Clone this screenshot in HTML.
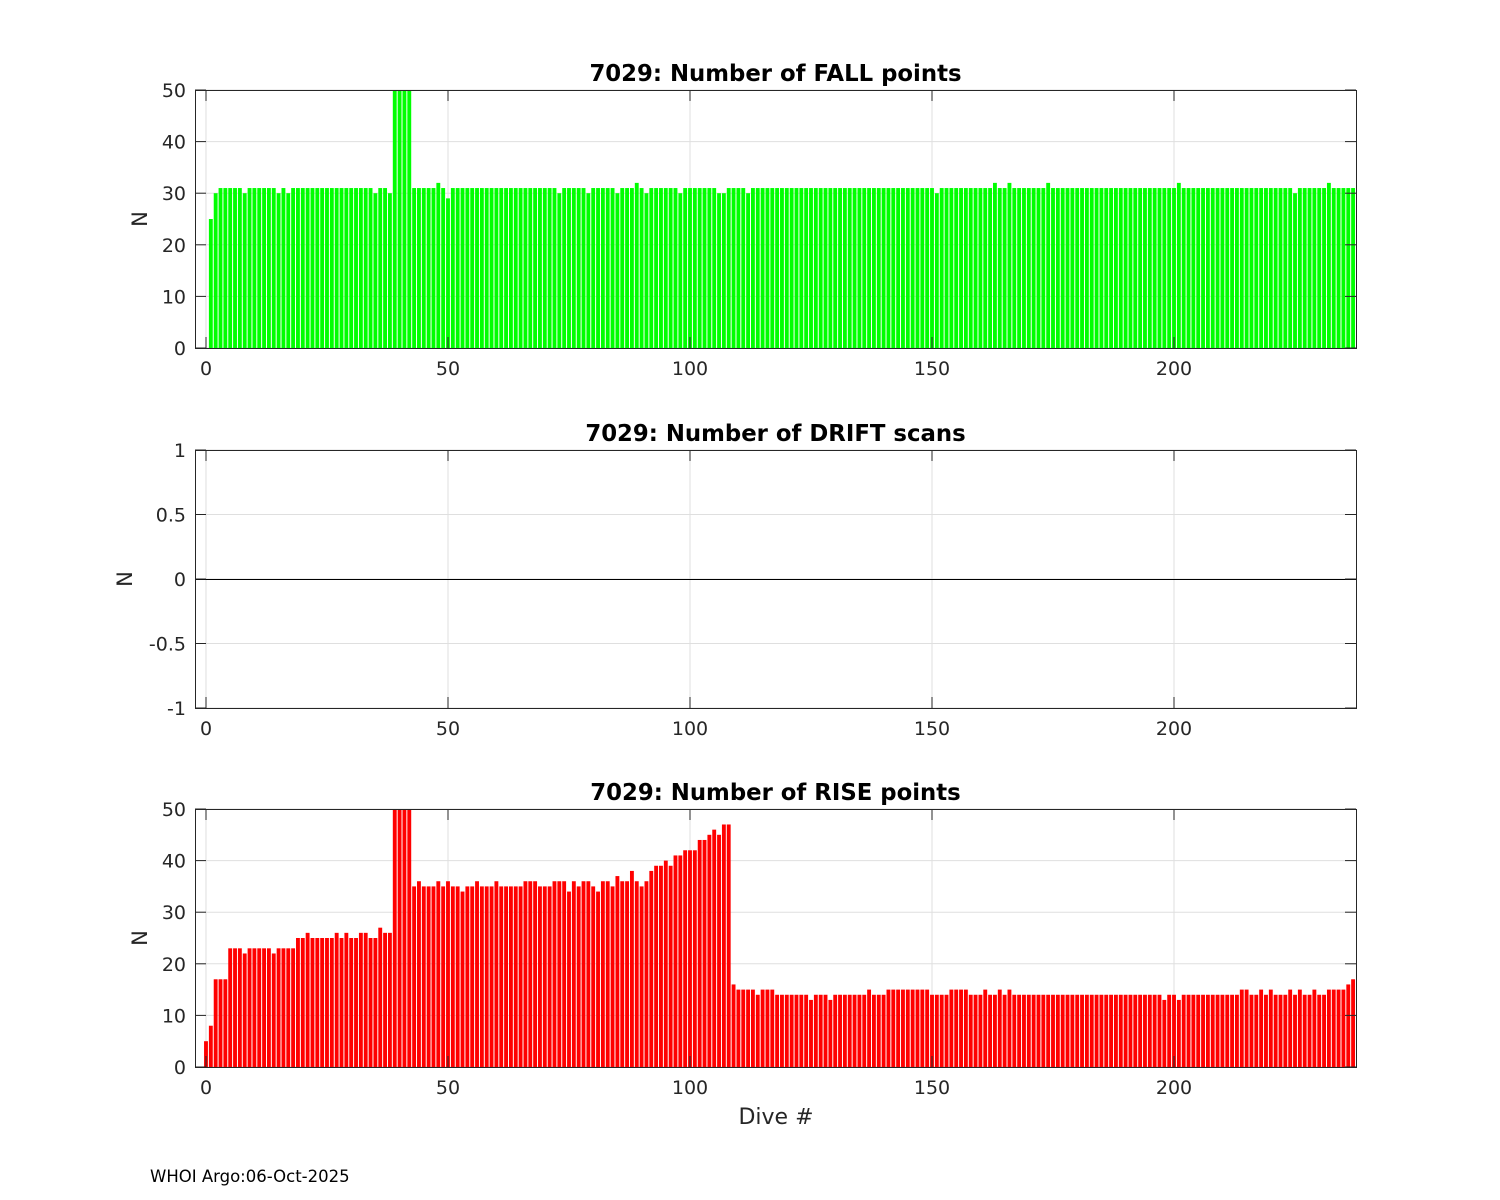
<!DOCTYPE html>
<html><head><meta charset="utf-8"><style>
body{margin:0;background:#fff;}
svg{display:block;font-family:"DejaVu Sans","Liberation Sans",sans-serif;}
</style></head><body>
<svg id="fig" width="1500" height="1200" viewBox="0 0 1500 1200"></svg>
<script>
const xTicks=[0,50,100,150,200];
const fallTicks=[0,10,20,30,40,50];
const driftTicks=[-1,-0.5,0,0.5,1];
const driftTickLabels=["-1","-0.5","0","0.5","1"];
const fallRuns=[[0,1],[25,1],[30,1],[31,5],[30,1],[31,6],[30,1],[31,1],[30,1],[31,17],[30,1],[31,2],[30,1],[50,4],[31,5],[32,1],[31,1],[29,1],[31,22],[30,1],[31,5],[30,1],[31,5],[30,1],[31,3],[32,1],[31,1],[30,1],[31,6],[30,1],[31,7],[30,2],[31,4],[30,1],[31,38],[30,1],[31,11],[32,1],[31,2],[32,1],[31,7],[32,1],[31,26],[32,1],[31,23],[30,1],[31,6],[32,1],[31,5]];
const riseVals=[5,8,17,17,17,23,23,23,22,23,23,23,23,23,22,23,23,23,23,25,25,26,25,25,25,25,25,26,25,26,25,25,26,26,25,25,27,26,26,50,50,50,50,
35,36,35,35,35,36,35,36,35,35,34,35,35,36,
35,35,35,36,35,35,35,35,35,36,36,36,35,35,35,36,36,36,34,36,35,36,36,35,34,36,36,35,37,36,36,38,36,35,36,38,39,39,40,39,41,41,42,42,42,44,44,45,46,45,47,47,16,15,15,15,
15,14,15,15,15,14,14,14,14,14,14,14,13,14,14,14,13,14,14,14,14,14,14,14,15,14,14,14,15,15,15,15,15,15,15,15,15,14,14,14,14,15,15,15,15,14,14,14,15,14,14,15,14,15,14,14,14,14,14,14,14,14,14,14,
14,14,14,14,14,14,14,14,14,14,14,14,14,14,14,14,14,14,14,14,14,13,14,14,13,14,14,14,14,14,14,14,14,14,14,14,14,15,15,14,14,15,14,15,14,14,14,15,14,15,14,14,15,14,14,15,15,15,15,16,17];
const fallVals=[];fallRuns.forEach(r=>{for(let k=0;k<r[1];k++)fallVals.push(r[0]);});
const NS="http://www.w3.org/2000/svg";
const svg=document.getElementById('fig');
function mk(tag,attrs,parent){const e=document.createElementNS(NS,tag);for(const k in attrs)e.setAttribute(k,attrs[k]);(parent||svg).appendChild(e);return e;}
const XL=195,XR=1356,XMIN=-2.27,XMAX=237.6;
const sx=v=>XL+(v-XMIN)/(XMAX-XMIN)*(XR-XL);
function panel(name,top,bot,ymin,ymax,yt,ytl,vals,color,title,ylabX){
  const g=mk('g',{});
  
  
  const sy=v=>bot-(v-ymin)/(ymax-ymin)*(bot-top);
  xTicks.forEach(t=>{const l=mk('line',{x1:sx(t),x2:sx(t),y1:top,y2:bot,stroke:'#dfdfdf','stroke-width':1},g);});
  yt.forEach(t=>{const l=mk('line',{x1:XL,x2:XR,y1:sy(t),y2:sy(t),stroke:'#dfdfdf','stroke-width':1},g);});
  const pitch=(XR-XL)/(XMAX-XMIN),bw=pitch*0.8;
  if(vals){vals.forEach((v,i)=>{if(v<=0)return;const r=mk('rect',{x:sx(i)-bw/2,y:sy(v),width:bw,height:sy(0)-sy(v),fill:color},g);});}
  else{const l=mk('line',{x1:XL,x2:XR,y1:Math.round(sy(0))+0.5,y2:Math.round(sy(0))+0.5,stroke:'#000','stroke-width':1},g);}
  const box=mk('rect',{x:XL+0.5,y:top+0.5,width:XR-XL,height:bot-top,fill:'none',stroke:'#262626','stroke-width':1},g);
  
  xTicks.forEach(t=>{mk('line',{x1:sx(t),x2:sx(t),y1:bot,y2:bot-11,stroke:'#262626'},g);mk('line',{x1:sx(t),x2:sx(t),y1:top,y2:top+11,stroke:'#262626'},g);
    const tx=mk('text',{x:sx(t),y:bot+27,'text-anchor':'middle','font-size':19,fill:'#262626'},g);tx.textContent=t;});
  yt.forEach((t,k)=>{mk('line',{x1:XL,x2:XL+11,y1:sy(t),y2:sy(t),stroke:'#262626'},g);mk('line',{x1:XR,x2:XR-11,y1:sy(t),y2:sy(t),stroke:'#262626'},g);
    const tx=mk('text',{x:XL-9,y:sy(t)+7,'text-anchor':'end','font-size':19,fill:'#262626'},g);tx.textContent=ytl[k];});
  const tt=mk('text',{x:(XL+XR)/2,y:top-9,'text-anchor':'middle','font-size':22.8,'font-weight':'bold',fill:'#000'},g);tt.textContent=title;
  
  const yl=mk('text',{x:ylabX,y:(top+bot)/2,'text-anchor':'middle','font-size':21,fill:'#262626',transform:`rotate(-90 ${ylabX} ${(top+bot)/2})`},g);yl.textContent='N';
  
}
panel('fall',90,348,0,50,fallTicks,fallTicks.map(String),fallVals,'#00ff00','7029: Number of FALL points',147);
panel('drift',450,708,-1,1,driftTicks,driftTickLabels,null,null,'7029: Number of DRIFT scans',132);
panel('rise',809,1067,0,50,fallTicks,fallTicks.map(String),riseVals,'#ff0000','7029: Number of RISE points',147);
const xl=mk('text',{x:776,y:1124,'text-anchor':'middle','font-size':22,fill:'#262626'});xl.textContent='Dive #';

const ft=mk('text',{x:150,y:1182,'font-size':16.5,fill:'#000'});ft.textContent='WHOI Argo:06-Oct-2025';

</script>
</body></html>
